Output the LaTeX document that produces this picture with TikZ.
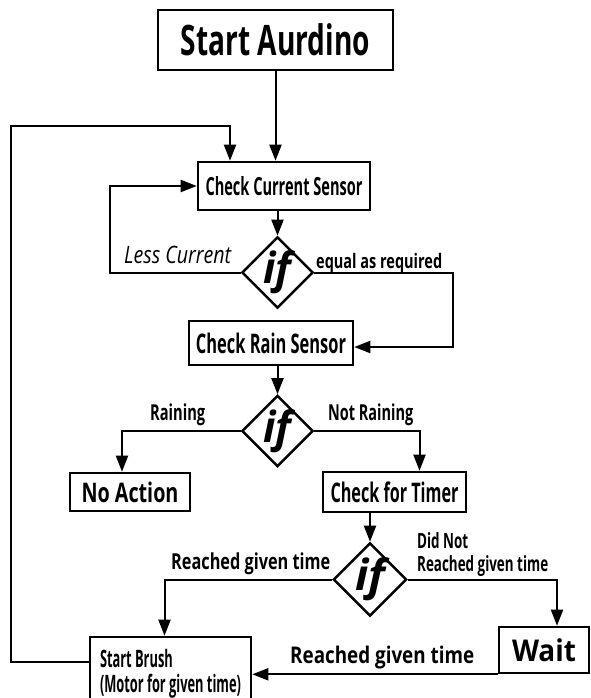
\documentclass[tikz,border=0pt]{standalone}
\usepackage{fontspec}
\setmainfont{Open Sans}
\usepackage{graphicx}
\usetikzlibrary{arrows.meta,shapes.geometric,positioning}
% squeeze text to a given width, keep its height
\newcommand{\fw}[2]{\resizebox{#1pt}{\height}{#2}}

\begin{document}
\begin{tikzpicture}[x=1pt, y=-1pt,
    arr/.style={-{Triangle[length=16pt,width=12pt]}, line width=2pt},
    box/.style={draw, line width=2.6pt, inner sep=0pt},
    dec/.style={draw, diamond, line width=2.4pt, inner sep=0pt,
                minimum width=59, minimum height=68,
                font=\bfseries\itshape\fontsize{43}{43}\selectfont},
    lbl/.style={anchor=base west, inner sep=0pt}
  ]
  \useasboundingbox (0,0) rectangle (590,698);

  \node[box, minimum width=235, minimum height=60,
        font=\bfseries\fontsize{42}{46}\selectfont] (start) at (275.5,40) {\fw{189}{Start Aurdino}};
  \node[box, minimum width=172, minimum height=48,
        font=\bfseries\fontsize{25}{28}\selectfont] (ccs) at (284,186) {\fw{157}{Check Current Sensor}};
  \node[dec] (d1) at (277.5,272.5) {\fw{28}{if}};
  \node[box, minimum width=164, minimum height=44,
        font=\bfseries\fontsize{27}{28}\selectfont] (crs) at (271,343) {\fw{150}{Check Rain Sensor}};
  \node[dec] (d2) at (277.5,431) {\fw{28}{if}};
  \node[box, minimum width=120, minimum height=38,
        font=\bfseries\fontsize{27}{28}\selectfont] (noact) at (130,492) {\fw{97}{No Action}};
  \node[box, minimum width=143, minimum height=40,
        font=\bfseries\fontsize{27}{28}\selectfont] (cft) at (394.5,492) {\fw{128}{Check for Timer}};
  \node[dec, minimum width=64, minimum height=69] (d3) at (370,579.5) {\fw{30}{if}};
  \node[box, minimum width=90, minimum height=46,
        font=\bfseries\fontsize{30}{32}\selectfont] (wait) at (544,650) {\fw{64}{Wait}};
  \node[box, minimum width=161, minimum height=74,
        font=\bfseries\fontsize{24}{22}\selectfont] (brush) at (170.5,674)
        {\fw{141}{\begin{tabular}{@{}l@{}}Start Brush\\(Motor for given time)\end{tabular}}};

  % branch labels
  \node[lbl, font=\itshape\fontsize{24}{24}\selectfont] (less) at (124,263) {\fw{107}{Less Current}};
  \node[lbl, font=\bfseries\fontsize{20}{20}\selectfont] (equal) at (316,268) {\fw{126}{equal as required}};
  \node[lbl, font=\bfseries\fontsize{22}{22}\selectfont] (rain) at (150,420) {\fw{55}{Raining}};
  \node[lbl, font=\bfseries\fontsize{22}{22}\selectfont] (norain) at (328,420) {\fw{85}{Not Raining}};
  \node[lbl, font=\bfseries\fontsize{22}{22}\selectfont] (reach) at (171,569) {\fw{159}{Reached given time}};
  \node[lbl, font=\bfseries\fontsize{21}{21}\selectfont] (notreach) at (417,571)
        {\fw{131}{\begin{tabular}[b]{@{}l@{}}Did Not\\Reached given time\end{tabular}}};
  \node[lbl, font=\bfseries\fontsize{23}{23}\selectfont] (reachwait) at (290,663) {\fw{184}{Reached given time}};

  \coordinate (corner) at (11,126);

  \draw[arr] (start.south) -- (start.south |- ccs.north);
  \draw[arr] (ccs.south -| d1.north) -- (d1.north);
  \draw[arr] (d1.west) -- ++(-131,0) |- (ccs.west);
  \draw[arr] (d1.east) -- ++(139,0) |- ([yshift=-4pt]crs.east);
  \draw[arr] (crs.south -| d2.north) -- (d2.north);
  \draw[arr] (d2.west) -| ([xshift=-8pt]noact.north);
  \draw[arr] (d2.east) -| ([xshift=25pt]cft.north);
  \draw[arr] (cft.south -| d3.north) -- (d3.north);
  \draw[arr] (d3.west) -| ([xshift=-6pt]brush.north);
  \draw[arr] (d3.east) -| ([xshift=13pt]wait.north);
  \draw[arr] (wait.south west) -- (wait.south west -| brush.east);
  \draw[arr] ([yshift=12pt]brush.west) -| (corner) -| ([xshift=-54pt]ccs.north);
\end{tikzpicture}
\end{document}
